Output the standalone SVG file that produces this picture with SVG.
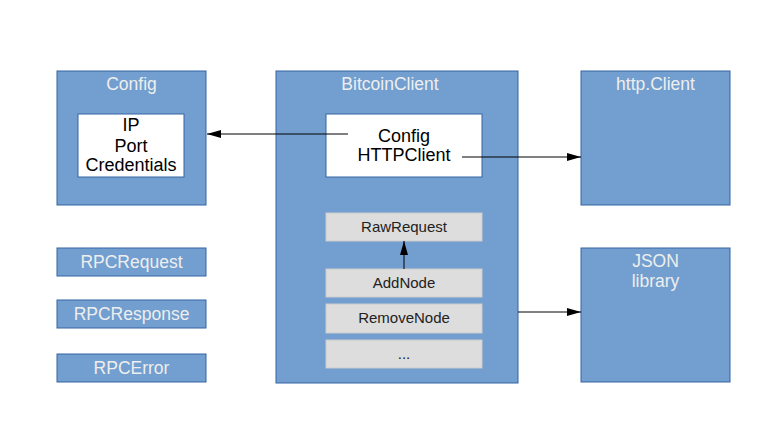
<svg xmlns="http://www.w3.org/2000/svg" width="781" height="439" viewBox="0 0 781 439">
<defs>
<style>
.box{fill:#729fcf;stroke:#3465a4;stroke-width:1}
.white{fill:#ffffff;stroke:#3465a4;stroke-width:1}
.grey{fill:#dddddd;stroke:#cccccc;stroke-width:1}
.t{font-family:"Liberation Sans",Arial,sans-serif;text-anchor:middle}
.title{font-size:17.5px;fill:#eeeeee}
.dark{font-size:18px;fill:#000000}
.small{font-size:15px;fill:#222222}
.conn{stroke:#000000;stroke-width:1;fill:none}
</style>
<marker id="ah" markerWidth="14" markerHeight="8" refX="14" refY="4" orient="auto" markerUnits="userSpaceOnUse">
<path d="M0,0 L14,4 L0,8 Z" fill="#000000"/>
</marker>
</defs>
<rect width="781" height="439" fill="#ffffff"/>
<g id="config">
<rect class="box" x="57" y="71" width="149" height="134"/>
<text class="t title" x="131.5" y="90">Config</text>
<rect class="white" x="78" y="114" width="106" height="63"/>
<text class="t dark" x="131" y="131">IP</text>
<text class="t dark" x="131" y="152">Port</text>
<text class="t dark" x="131" y="171">Credentials</text>
</g>
<g id="rpcrequest">
<rect class="box" x="57" y="248" width="149" height="28"/>
<text class="t title" x="131.5" y="268">RPCRequest</text>
</g>
<g id="rpcresponse">
<rect class="box" x="57" y="300" width="149" height="28"/>
<text class="t title" x="131.5" y="320">RPCResponse</text>
</g>
<g id="rpcerror">
<rect class="box" x="57" y="354" width="149" height="28"/>
<text class="t title" x="131.5" y="374">RPCError</text>
</g>
<g id="bitcoinclient">
<rect class="box" x="276" y="71" width="242" height="312"/>
<text class="t title" x="390" y="90">BitcoinClient</text>
<rect class="white" x="326" y="114" width="156" height="63"/>
<text class="t dark" x="404" y="142">Config</text>
<text class="t dark" x="404" y="161">HTTPClient</text>
</g>
<g id="rawrequest">
<rect class="grey" x="326" y="213" width="156" height="28"/>
<text class="t small" x="404" y="232">RawRequest</text>
</g>
<g id="addnode">
<rect class="grey" x="326" y="269" width="156" height="28"/>
<text class="t small" x="404" y="288">AddNode</text>
</g>
<g id="removenode">
<rect class="grey" x="326" y="304" width="156" height="29"/>
<text class="t small" x="404" y="323">RemoveNode</text>
</g>
<g id="more">
<rect class="grey" x="326" y="340" width="156" height="28"/>
<text class="t small" x="404" y="359">...</text>
</g>
<g id="httpclient">
<rect class="box" x="581" y="71" width="149" height="134"/>
<text class="t title" x="655.5" y="90">http.Client</text>
</g>
<g id="jsonlibrary">
<rect class="box" x="581" y="248" width="149" height="134"/>
<text class="t title" x="655.5" y="267">JSON</text>
<text class="t title" x="655.5" y="287">library</text>
</g>
<g id="connectors">
<line class="conn" x1="348" y1="134" x2="207" y2="134" marker-end="url(#ah)"/>
<line class="conn" x1="462" y1="157" x2="581" y2="157" marker-end="url(#ah)"/>
<line class="conn" x1="518" y1="312" x2="581" y2="312" marker-end="url(#ah)"/>
<line class="conn" x1="404" y1="269" x2="404" y2="241" marker-end="url(#ah)"/>
</g>
</svg>
